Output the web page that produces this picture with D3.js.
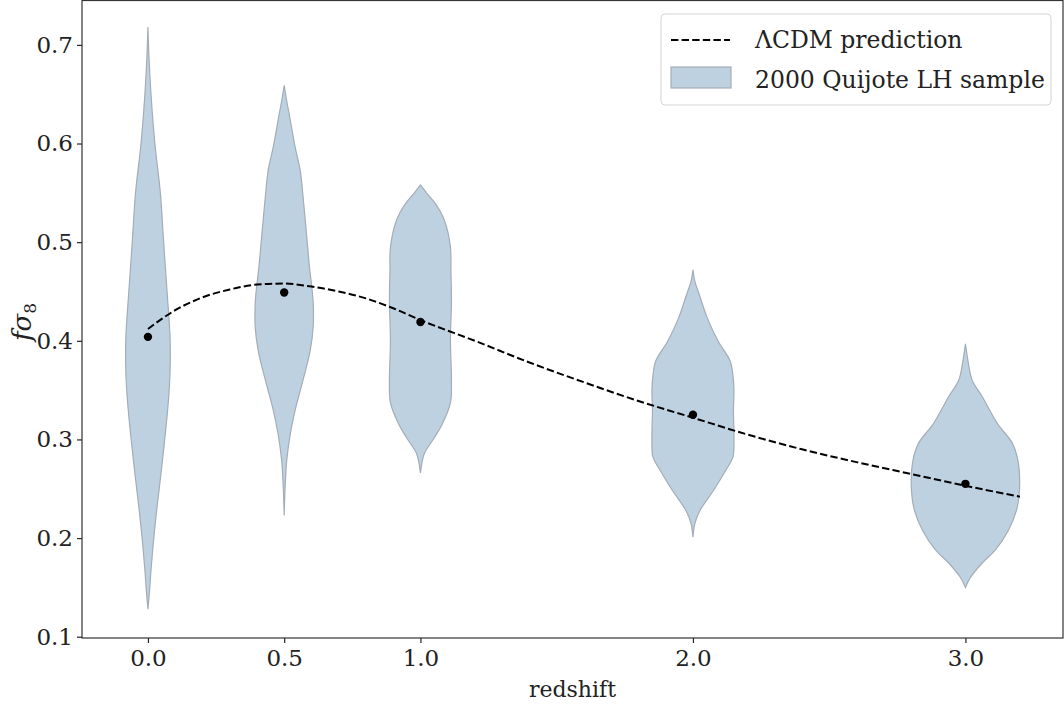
<!DOCTYPE html>
<html>
<head>
<meta charset="utf-8">
<script src="https://cdn.jsdelivr.net/npm/d3@7"></script>
<style>
  body { margin: 0; background: #fff; }
  text { font-family: "DejaVu Serif", serif; fill: #222; }
</style>
</head>
<body>
<div id="chart"></div>
<script>
// redshift bins and labels
var redshifts = [0, 0.5, 1, 2, 3];
var xTickLabels = ["0.0", "0.5", "1.0", "2.0", "3.0"];
var yTicks = [0.1, 0.2, 0.3, 0.4, 0.5, 0.6, 0.7];

// median of the Quijote LH sample in each bin
var medians = [0.404, 0.449, 0.419, 0.325, 0.255];

// LCDM prediction
var lcdmZ = [0, 0.1, 0.2, 0.3, 0.4, 0.5, 0.6, 0.7, 0.8, 0.9, 1.0, 1.2, 1.4, 1.6, 1.8, 2.0, 2.2, 2.4, 2.6, 2.8, 3.0, 3.2];
var lcdmF = [0.412, 0.431, 0.444, 0.452, 0.457, 0.458, 0.455, 0.450, 0.443, 0.433, 0.421, 0.400, 0.378, 0.358, 0.339, 0.322, 0.305, 0.290, 0.277, 0.265, 0.253, 0.242];

// kernel density of f*sigma8 per bin: [value, density]
var violin_z0 = [[0.128, 0], [0.145, 0.2], [0.164, 0.38], [0.2, 0.8], [0.231, 1.24], [0.265, 1.78], [0.3, 2.3], [0.33, 2.7], [0.355, 2.95], [0.38, 3.06], [0.405, 3.02], [0.45, 2.62], [0.5, 2.15], [0.55, 1.7], [0.6, 0.95], [0.65, 0.42], [0.69, 0.13], [0.718, 0]];
var violin_z05 = [[0.223, 0], [0.25, 0.12], [0.279, 0.35], [0.306, 0.85], [0.33, 1.51], [0.357, 2.47], [0.39, 3.56], [0.414, 3.97], [0.441, 3.95], [0.478, 3.42], [0.512, 3.01], [0.545, 2.6], [0.573, 2.19], [0.596, 1.51], [0.63, 0.68], [0.645, 0.3], [0.659, 0]];
var violin_z1 = [[0.266, 0], [0.276, 0.2], [0.286, 0.55], [0.302, 1.92], [0.316, 3.01], [0.337, 4.11], [0.36, 4.25], [0.4, 4.11], [0.44, 4.25], [0.47, 4.18], [0.495, 4.11], [0.522, 3.29], [0.539, 2.05], [0.55, 0.82], [0.558, 0]];
var violin_z2 = [[0.201, 0], [0.215, 0.27], [0.228, 0.96], [0.249, 2.88], [0.269, 4.52], [0.282, 5.48], [0.3, 5.62], [0.33, 5.55], [0.35, 5.62], [0.365, 5.48], [0.38, 5.07], [0.4, 3.42], [0.424, 1.92], [0.448, 0.82], [0.46, 0.27], [0.472, 0]];
var violin_z3 = [[0.15, 0], [0.16, 0.68], [0.175, 2.33], [0.188, 4.11], [0.208, 5.89], [0.228, 6.99], [0.249, 7.4], [0.276, 7.26], [0.296, 6.44], [0.316, 4.38], [0.343, 2.33], [0.36, 0.92], [0.377, 0.41], [0.397, 0]];
var violins = [violin_z0, violin_z05, violin_z1, violin_z2, violin_z3];

var legendLabels = ["\u039BCDM prediction", "2000 Quijote LH sample"];

var W = 1064, H = 709;
var margin = { top: 0.5, right: 1, bottom: 71, left: 82 };

var svg = d3.select("#chart")
      .append("svg")
      .attr("width", W)
      .attr("height", H);

var xScale = d3.scaleLinear()
      .domain([-0.242, 3.358])
      .range([margin.left, W - margin.right]);
var yScale = d3.scaleLinear()
      .domain([0.0987, 0.745])
      .range([H - margin.bottom, margin.top]);
// density -> half width in pixels (same scale for every bin)
var wScale = d3.scaleLinear()
      .domain([0, 7.4])
      .range([0, 54]);

// Violins
violins.forEach(function (prof, i) {
      var cx = xScale(redshifts[i]);
      var area = d3.area()
            .y(function (d) { return yScale(d[0]); })
            .x0(function (d) { return cx - wScale(d[1]); })
            .x1(function (d) { return cx + wScale(d[1]); })
            .curve(d3.curveCatmullRom);
      svg.append("path")
            .datum(prof)
            .attr("d", area)
            .attr("fill", "#bed1e0")
            .attr("stroke", "#a3adb7")
            .attr("stroke-width", 1.2);
});

// LCDM dashed line
var lcdmData = lcdmZ.map(function (z, i) { return { z: z, f: lcdmF[i] }; });
svg.append("path")
      .datum(lcdmData)
      .attr("d", d3.line()
            .x(function (d) { return xScale(d.z); })
            .y(function (d) { return yScale(d.f); })
            .curve(d3.curveMonotoneX))
      .attr("fill", "none")
      .attr("stroke", "#000")
      .attr("stroke-width", 2)
      .attr("stroke-dasharray", "7.4,3.2");

// median points
svg.selectAll("circle.med")
      .data(medians)
      .enter()
      .append("circle")
      .attr("class", "med")
      .attr("cx", function (d, i) { return xScale(redshifts[i]); })
      .attr("cy", function (d) { return yScale(d); })
      .attr("r", 4.2)
      .attr("fill", "#000");

// Axes
var xAxis = svg.append("g")
      .attr("transform", "translate(0," + (H - margin.bottom) + ")")
      .call(d3.axisBottom(xScale)
            .tickValues(redshifts)
            .tickFormat(function (d, i) { return xTickLabels[i]; })
            .tickSizeOuter(0)
            .tickSize(5)
            .tickPadding(7));
var yAxis = svg.append("g")
      .attr("transform", "translate(" + margin.left + ",0)")
      .call(d3.axisLeft(yScale)
            .tickValues(yTicks)
            .tickFormat(d3.format(".1f"))
            .tickSizeOuter(0)
            .tickSize(5)
            .tickPadding(4));
[xAxis, yAxis].forEach(function (g) {
      g.select(".domain").remove();
      g.selectAll("line").attr("stroke", "#222").attr("stroke-width", 1.2);
      g.selectAll("text").attr("font-size", 23).attr("font-family", "DejaVu Serif").attr("fill", "#222");
});

// frame
svg.append("rect")
      .attr("x", margin.left)
      .attr("y", margin.top)
      .attr("width", W - margin.right - margin.left)
      .attr("height", H - margin.bottom - margin.top)
      .attr("fill", "none")
      .attr("stroke", "#333")
      .attr("stroke-width", 1.2);

// axis labels
svg.append("text")
      .attr("x", (margin.left + W - margin.right) / 2)
      .attr("y", 697)
      .attr("text-anchor", "middle")
      .attr("font-size", 22)
      .text("redshift");

var ylab = svg.append("text")
      .attr("transform", "translate(31,322) rotate(-90)")
      .attr("text-anchor", "middle")
      .attr("font-size", 26);
ylab.append("tspan").attr("font-style", "italic").text("f\u03C3");
ylab.append("tspan").attr("font-size", 17).attr("dy", 5).text("8");

// Legend
var lg = svg.append("g").attr("transform", "translate(661,14)");
lg.append("rect")
      .attr("width", 390)
      .attr("height", 91)
      .attr("rx", 4)
      .attr("fill", "#fff")
      .attr("fill-opacity", 0.8)
      .attr("stroke", "#d5d5d5")
      .attr("stroke-width", 1);
lg.append("line")
      .attr("x1", 10).attr("x2", 69)
      .attr("y1", 26).attr("y2", 26)
      .attr("stroke", "#000")
      .attr("stroke-width", 2)
      .attr("stroke-dasharray", "7.4,3.2");
lg.append("rect")
      .attr("x", 10).attr("y", 53)
      .attr("width", 60).attr("height", 21)
      .attr("fill", "#bed1e0")
      .attr("stroke", "#a3adb7")
      .attr("stroke-width", 1.2);
lg.selectAll("text.leg")
      .data(legendLabels)
      .enter()
      .append("text")
      .attr("class", "leg")
      .attr("x", 94)
      .attr("y", function (d, i) { return 34 + i * 40; })
      .attr("font-size", 23.5)
      .text(function (d) { return d; });
</script>
</body>
</html>
